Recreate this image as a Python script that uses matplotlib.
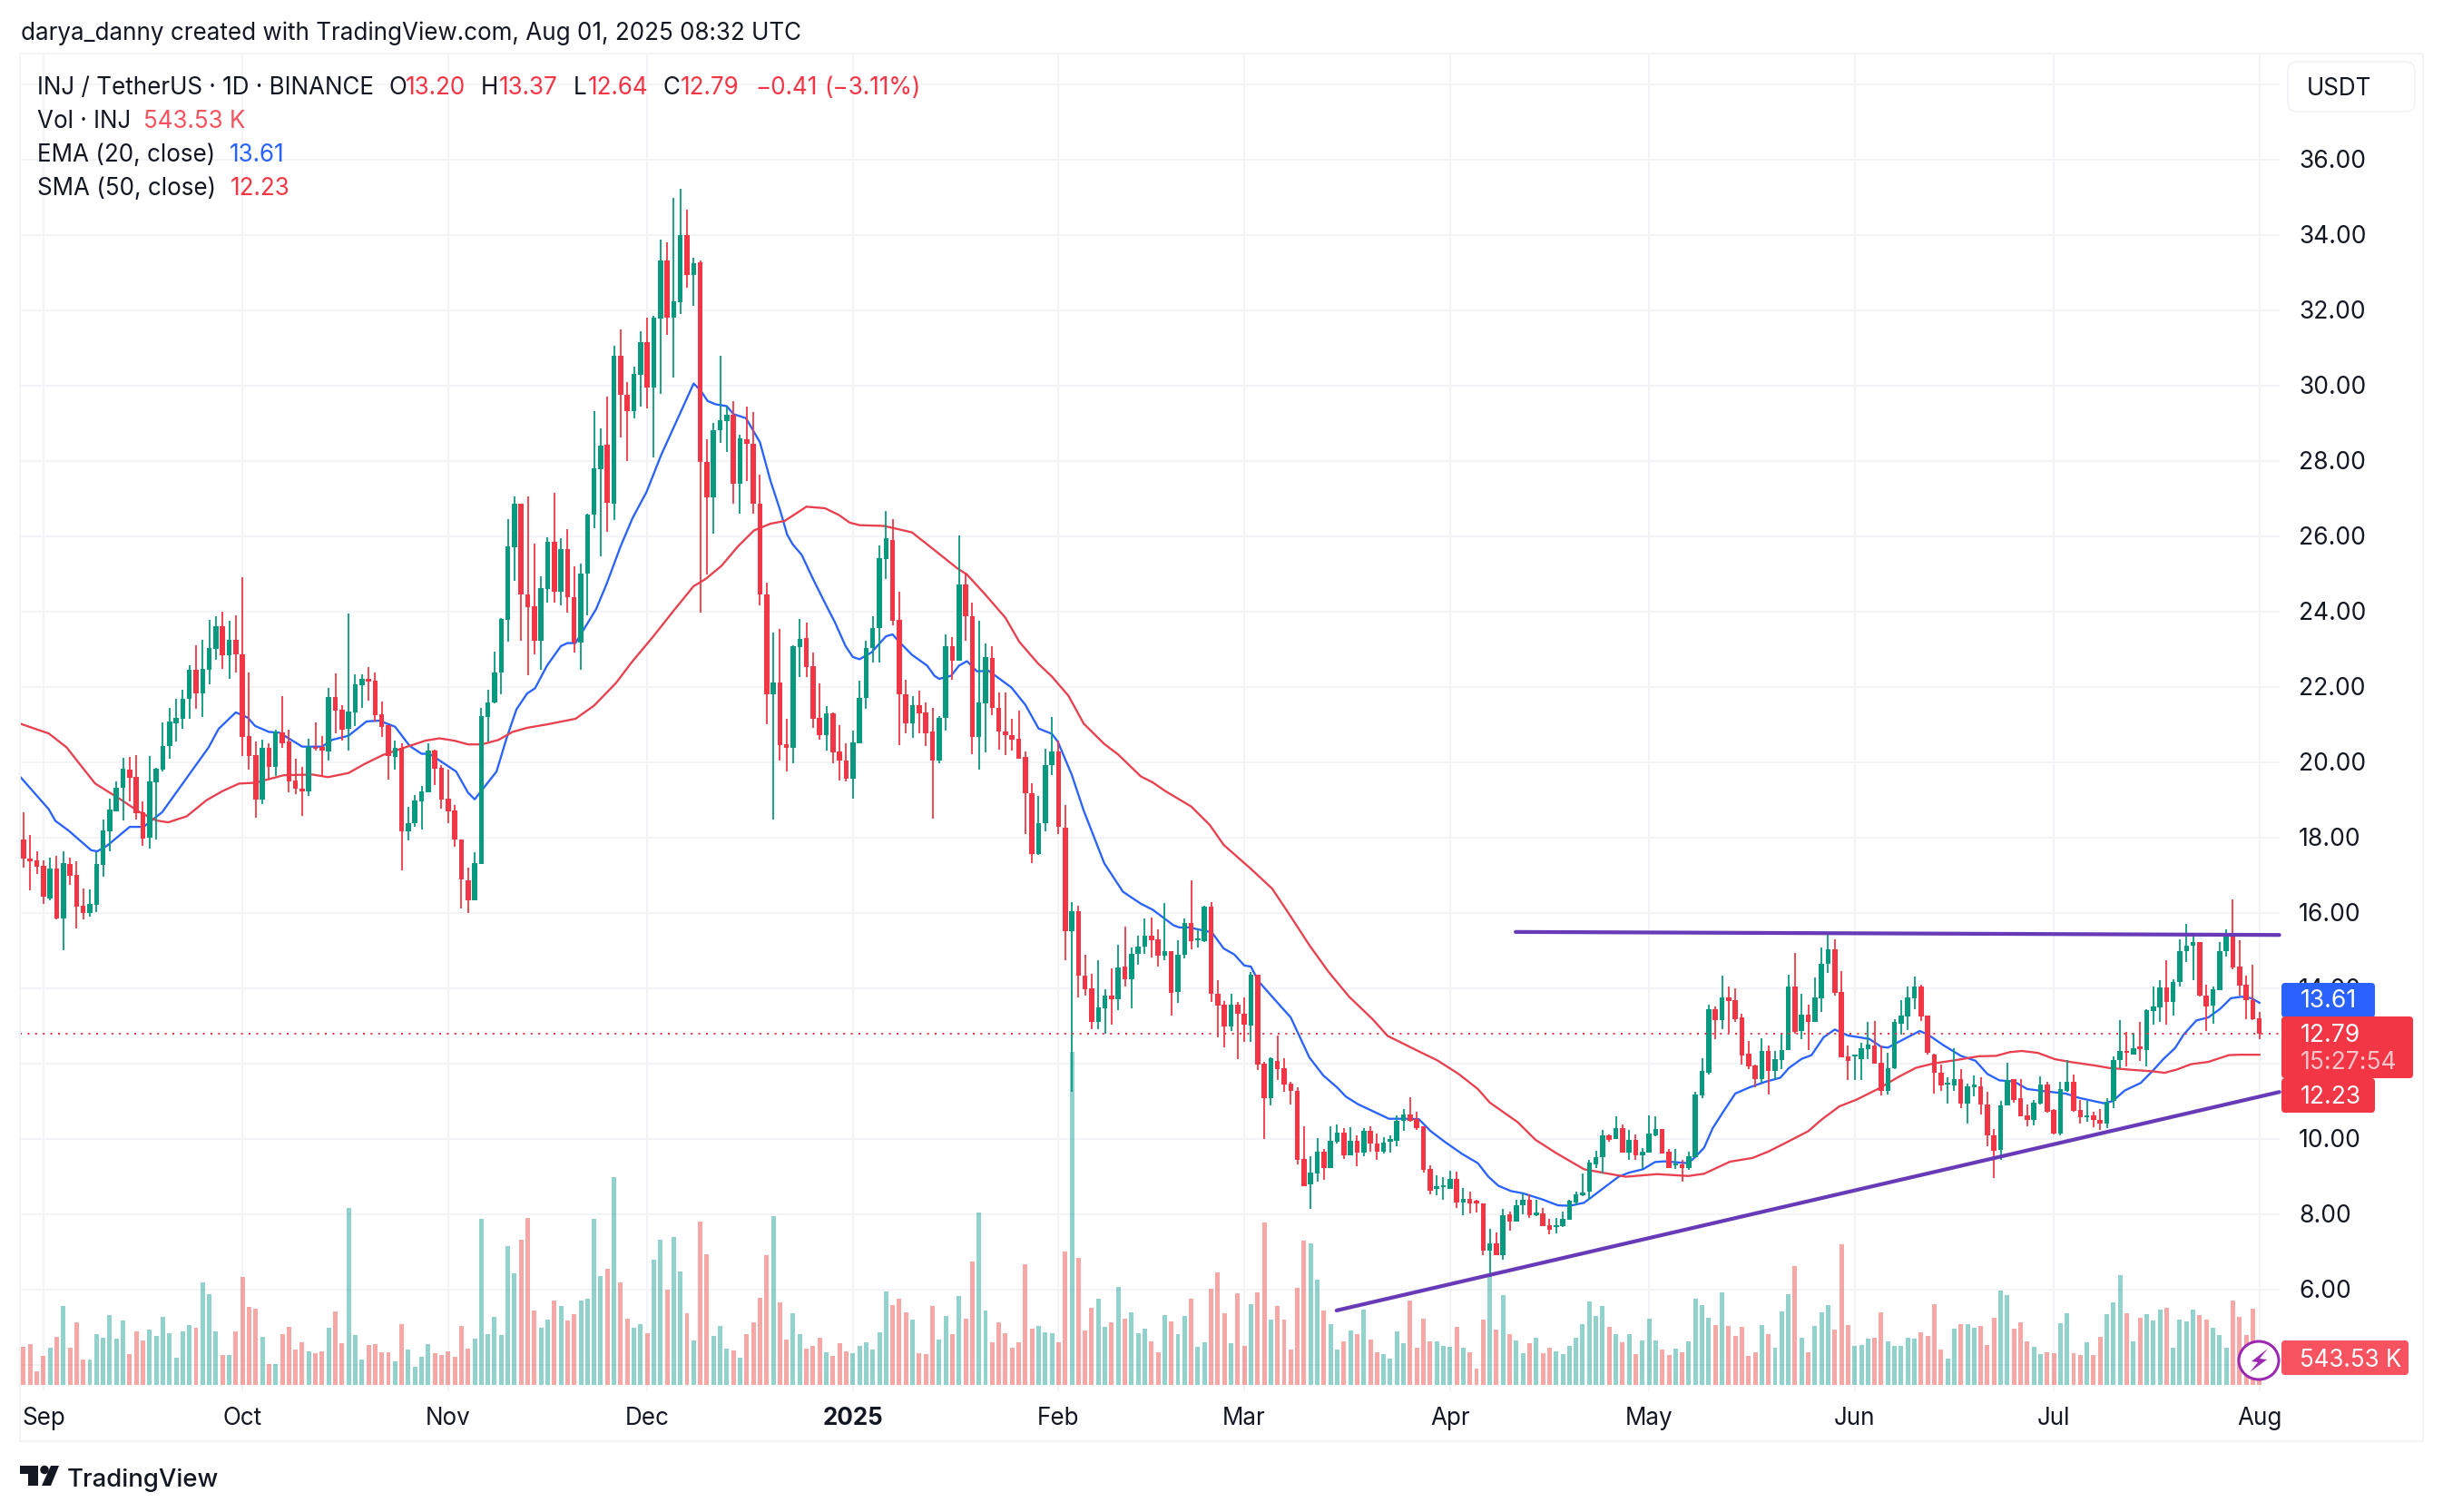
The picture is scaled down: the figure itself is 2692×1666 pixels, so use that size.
import numpy as np
import matplotlib
matplotlib.use("Agg")
import matplotlib.pyplot as plt
from matplotlib.patches import FancyBboxPatch, Rectangle, Polygon, Ellipse

plt.rcParams['font.family'] = ['Inter', 'DejaVu Sans']

opens = [
17.94,17.44,17.38,17.24,16.38,17.17,15.86,17.29,17.0,16.18,
16.0,16.22,17.28,18.17,18.69,19.33,19.81,19.6,18.67,18.0,
19.47,19.79,20.43,21.04,21.16,21.68,22.45,21.82,22.46,23.0,
23.6,22.84,23.25,22.86,20.69,20.18,19.0,20.38,19.87,20.78,
20.54,19.51,19.3,19.23,20.41,20.41,20.29,21.72,21.39,20.89,
21.32,22.04,22.22,22.16,21.26,20.97,20.14,20.39,18.16,18.37,
18.95,19.2,20.31,19.85,19.03,18.71,17.94,16.86,16.34,17.3,
21.2,21.58,22.39,23.77,25.7,26.85,24.44,24.14,23.23,24.6,
25.84,24.52,25.66,24.37,23.17,25.01,26.56,27.78,28.42,26.86,
30.79,29.76,29.33,30.28,31.14,29.94,31.78,33.33,31.81,32.2,
34.0,32.93,33.26,27.97,27.03,28.8,29.05,29.21,27.4,28.57,
28.44,26.85,24.44,21.81,22.12,20.47,20.39,23.05,23.29,22.54,
21.18,20.72,21.29,20.28,20.05,19.56,20.51,21.7,23.02,23.56,
25.38,25.9,23.77,21.81,21.03,21.52,21.31,20.8,20.03,21.18,
23.08,22.68,24.71,23.88,20.66,21.56,22.77,21.43,20.81,20.72,
20.62,20.14,19.17,17.56,18.39,19.92,20.27,18.26,15.5,16.05,
14.32,14.0,13.09,13.46,13.81,13.71,14.57,14.23,14.91,15.09,
15.38,15.29,14.87,14.97,13.89,14.89,15.72,15.27,15.24,16.15,
13.85,13.55,12.98,13.57,13.33,13.01,14.35,11.99,11.08,12.06,
11.87,11.46,11.26,9.46,8.78,9.07,9.66,9.23,9.92,10.16,
9.57,9.94,9.64,10.22,9.88,9.65,9.93,9.94,10.48,10.64,
10.52,10.33,9.19,8.67,8.71,8.67,8.93,8.31,8.41,8.31,
8.27,7.04,7.23,6.92,7.99,7.81,8.23,8.39,7.97,8.01,
7.71,7.65,7.69,7.85,8.31,8.5,8.59,9.33,9.5,10.09,
10.0,10.29,9.64,9.97,9.57,9.62,10.09,10.26,9.65,9.29,
9.31,9.22,9.52,11.16,11.76,13.45,13.14,13.75,13.67,13.21,
12.26,11.95,11.58,12.32,11.79,12.1,12.36,14.05,12.87,13.3,
13.09,13.73,14.64,15.03,13.89,12.19,12.18,12.12,12.38,12.48,
12.02,11.28,11.87,13.06,13.25,13.73,14.05,13.26,12.24,11.76,
11.43,11.42,11.59,10.94,11.37,11.39,10.9,10.09,9.7,10.88,
11.58,11.08,10.61,10.5,10.94,11.44,10.76,10.13,11.28,11.52,
10.76,10.56,10.61,10.5,10.4,11.0,12.08,12.34,12.24,12.43,
12.36,13.39,13.49,14.01,13.63,14.15,14.97,15.12,15.21,13.81,
13.54,13.95,14.97,15.41,14.57,14.09,13.69,13.2]

closes = [
17.44,17.37,17.22,16.42,17.17,15.86,17.32,16.98,16.17,16.0,
16.23,17.29,18.18,18.74,19.33,19.82,19.59,18.65,17.97,19.49,
19.82,20.43,21.08,21.17,21.68,22.45,21.82,22.47,23.04,23.6,
22.84,23.25,22.86,20.67,20.15,19.0,20.38,19.87,20.8,20.51,
19.49,19.29,19.23,20.41,20.35,20.31,21.73,21.37,20.86,21.34,
22.06,22.22,22.14,21.24,20.94,20.15,20.39,18.16,18.37,18.97,
19.21,20.3,19.83,19.01,18.69,17.94,16.88,16.34,17.32,21.21,
21.58,22.39,23.79,25.73,26.86,24.46,24.12,23.22,24.61,25.84,
24.52,25.65,24.37,23.17,25.01,26.58,27.8,28.4,26.88,30.79,
29.76,29.33,30.3,31.14,29.94,31.81,33.31,31.81,32.23,34.0,
32.93,33.25,27.97,27.03,28.8,29.07,29.21,27.4,28.59,28.44,
26.86,24.44,21.81,22.12,20.45,20.39,23.08,23.27,22.53,21.15,
20.72,21.29,20.26,20.03,19.56,20.52,21.7,23.02,23.56,25.41,
25.94,23.75,21.81,21.04,21.52,21.29,20.77,20.03,21.18,23.08,
22.68,24.71,23.88,20.66,21.58,22.79,21.43,20.8,20.72,20.6,
20.1,19.17,17.56,18.39,19.92,20.27,18.28,15.5,16.05,14.32,
13.96,13.09,13.49,13.81,13.71,14.55,14.23,14.91,15.11,15.38,
15.27,14.86,14.97,13.87,14.89,15.72,15.24,15.31,16.15,13.85,
13.53,12.98,13.57,13.33,13.04,14.35,11.97,11.08,12.13,11.86,
11.44,11.26,9.43,8.75,9.1,9.65,9.23,9.94,10.16,9.57,
9.94,9.64,10.21,9.88,9.66,9.89,9.98,10.48,10.64,10.48,
10.28,9.18,8.62,8.7,8.74,8.93,8.31,8.41,8.27,8.29,
7.04,7.23,6.92,7.97,7.81,8.23,8.39,7.97,8.01,7.69,
7.59,7.71,7.87,8.35,8.53,8.58,9.37,9.52,10.09,9.97,
10.28,9.64,9.97,9.57,9.65,10.14,10.26,9.6,9.23,9.33,
9.23,9.54,11.18,11.8,13.43,13.14,13.75,13.66,13.18,12.22,
11.92,11.58,12.32,11.79,12.12,12.36,14.05,12.83,13.29,13.09,
13.74,14.65,15.03,13.87,12.16,12.07,12.2,12.4,12.5,12.0,
11.26,11.88,13.09,13.26,13.75,14.03,13.25,12.27,11.75,11.42,
11.47,11.59,10.94,11.39,11.42,10.9,10.08,9.68,10.88,11.55,
11.04,10.6,10.5,10.96,11.44,10.72,10.13,11.32,11.52,10.74,
10.56,10.62,10.5,10.4,10.98,12.08,12.32,12.27,12.4,12.39,
13.42,13.5,14.01,13.62,14.15,14.97,15.12,15.21,13.79,13.5,
13.97,14.97,15.41,14.55,14.07,13.67,13.17,12.79]

highs = [
18.67,18.06,17.62,17.38,17.46,17.52,17.62,17.46,17.36,16.64,
16.62,17.6,18.47,19.03,19.49,20.11,20.14,20.18,18.95,20.15,
19.85,21.05,21.44,21.68,21.92,22.56,23.1,23.25,23.78,23.87,
23.99,23.75,23.89,24.91,22.38,20.54,20.59,20.51,20.85,21.74,
20.86,20.09,19.87,20.62,21.05,20.7,21.98,22.35,21.52,23.94,
22.32,22.32,22.52,22.38,21.6,20.97,20.57,20.49,18.8,19.12,
19.37,20.49,20.33,19.91,19.79,18.87,17.94,17.2,17.6,21.45,
21.92,22.94,23.83,26.44,27.05,26.85,27.05,25.8,24.94,25.96,
27.15,25.94,26.19,25.2,25.27,26.6,29.32,28.87,29.7,31.05,
31.49,30.1,30.51,31.43,31.81,31.86,33.88,33.79,34.97,35.23,
34.66,33.39,33.31,28.57,29.01,30.79,29.44,29.59,28.7,29.44,
29.3,27.63,24.77,23.45,23.54,21.15,23.1,23.79,23.71,22.91,
22.08,21.49,21.33,20.98,20.51,20.83,22.16,23.23,23.88,25.75,
26.67,26.44,24.52,22.18,21.75,21.89,21.58,21.44,21.21,23.4,
23.31,26.02,25.04,24.23,23.75,23.16,23.08,21.85,21.86,21.15,
21.37,20.27,19.43,19.09,20.35,21.2,20.57,18.87,16.29,16.18,
14.89,14.39,14.75,13.98,14.52,15.16,15.62,15.08,15.4,15.84,
15.88,15.57,16.26,14.97,15.27,15.86,16.86,15.59,16.18,16.29,
14.21,13.66,13.85,13.62,13.76,14.43,14.35,12.04,12.16,12.74,
12.14,11.52,11.36,10.33,9.54,10.02,9.72,10.32,10.37,10.28,
10.3,10.08,10.29,10.33,10.13,10.04,10.09,10.61,10.78,11.1,
10.72,10.33,9.29,9.03,8.98,9.15,9.13,8.69,8.59,8.37,
8.27,7.61,7.51,8.13,8.07,8.39,8.55,8.53,8.39,8.15,
7.87,7.89,8.07,8.39,8.59,9.07,9.45,9.68,10.24,10.12,
10.6,10.37,10.24,10.12,9.76,10.61,10.6,10.26,9.72,9.72,
9.43,9.66,11.24,12.14,13.55,13.5,14.33,14.03,13.99,13.33,
12.6,11.96,12.66,12.47,12.32,12.82,14.35,14.93,13.85,13.57,
14.27,15.07,15.44,15.29,14.45,12.47,12.24,12.54,13.1,13.13,
12.48,12.28,13.17,13.67,14.03,14.31,14.09,13.26,12.26,11.96,
11.63,12.4,11.84,11.47,11.68,11.64,11.24,10.25,11.0,12.02,
11.58,11.58,10.9,11.04,11.66,11.52,10.8,11.5,12.08,11.71,
11.02,11.0,10.72,10.8,11.08,12.19,13.14,12.83,12.81,13.1,
13.44,14.03,14.21,14.73,14.23,15.29,15.7,15.41,15.21,14.09,
14.03,15.21,15.57,16.35,15.27,14.33,14.61,13.37]

lows = [
17.2,16.6,17.02,16.23,16.34,15.82,15.0,16.74,15.59,15.83,
15.9,16.02,16.96,17.62,18.69,18.44,18.95,18.48,17.78,17.7,
17.94,19.75,20.09,20.55,20.88,21.16,21.41,21.2,22.06,22.72,
22.48,22.22,22.39,20.15,19.79,18.53,18.89,19.57,19.63,20.39,
19.2,19.15,18.56,19.09,20.31,19.63,20.05,20.76,20.58,20.31,
20.96,21.44,21.64,21.08,20.67,19.53,19.81,17.12,17.92,18.27,
18.21,19.19,19.39,18.77,18.39,17.76,16.12,16.0,16.34,17.3,
20.55,21.57,21.81,23.19,24.8,23.23,22.3,22.87,22.44,24.23,
24.23,24.15,23.97,22.91,22.44,23.9,26.21,25.47,26.12,26.42,
28.63,28.0,29.13,29.44,29.38,28.09,29.78,31.35,30.22,31.89,
32.6,32.12,23.98,24.98,26.07,28.47,28.24,26.86,26.59,27.46,
26.59,24.17,21.0,18.47,20.05,19.76,19.97,22.25,22.25,20.92,
20.6,20.31,19.97,19.51,19.48,19.02,20.49,21.41,22.64,22.64,
24.86,23.63,20.45,20.77,20.64,20.77,20.43,18.49,19.97,20.83,
22.19,22.68,23.22,20.22,19.79,20.25,21.24,20.34,20.18,20.31,
20.08,18.09,17.33,17.53,18.17,19.66,18.1,14.75,11.24,13.76,
13.79,12.92,12.9,12.8,13.03,13.42,14.03,13.46,14.62,14.92,
14.82,14.57,14.73,13.26,13.6,14.78,15.03,15.08,15.22,13.63,
12.69,12.42,12.85,12.12,12.58,12.58,11.83,10.0,10.88,11.55,
11.24,10.92,9.31,8.73,8.13,8.87,8.91,9.23,9.88,9.47,
9.57,9.27,9.54,9.65,9.43,9.6,9.62,9.8,10.21,10.44,
10.24,9.11,8.53,8.51,8.37,8.66,8.17,7.97,8.01,8.05,
6.92,6.33,6.91,6.79,7.57,7.81,7.99,7.89,7.95,7.67,
7.47,7.48,7.65,7.85,8.23,8.47,8.39,9.22,9.07,9.92,
10.0,9.64,9.43,9.43,9.19,9.62,10.06,9.6,9.22,9.19,
8.86,9.18,9.52,11.08,11.7,12.65,12.9,12.81,13.09,11.96,
11.86,11.36,11.48,11.18,11.59,11.84,12.36,12.79,12.65,12.35,
13.09,13.37,14.41,13.81,12.15,11.56,11.55,11.55,12.12,12.0,
11.16,11.18,11.84,12.77,12.89,13.45,13.13,12.24,11.2,11.26,
10.94,11.26,10.82,10.4,11.12,10.64,9.81,8.95,9.43,10.88,
10.96,10.6,10.34,10.36,10.92,10.69,10.12,10.08,11.24,10.72,
10.4,10.45,10.3,10.24,10.28,10.82,11.87,11.92,12.24,12.07,
11.92,13.03,13.09,13.03,13.27,14.03,14.69,14.21,13.77,12.86,
13.05,13.95,14.84,14.49,13.79,13.17,13.14,12.64]

volumes_k = [
1029,1103,362,782,1004,1300,2140,1004,1695,683,
683,1374,1276,1893,1251,1745,831,1448,1202,1498,
1325,1844,1399,732,1448,1621,1547,2782,2461,1448,
807,807,1448,2930,2115,2066,1300,560,560,1374,
1572,955,1152,905,856,905,1547,1992,1128,4806,
1350,683,1078,1103,881,881,634,1646,955,486,
757,1103,856,807,905,757,1597,979,1251,4510,
1374,1844,1350,3769,3029,3942,4535,2016,1547,1769,
2288,2140,1745,1918,2288,2337,4510,2955,3152,5646,
2782,1794,1547,1646,1399,3399,3942,2584,4008,3078,
1942,1202,4436,3547,1325,1597,979,930,732,1374,
1695,2362,3514,4584,2239,1226,1942,1374,979,1053,
1276,881,782,1128,905,856,1053,1152,955,1424,
2535,2164,2337,1967,1769,856,831,2140,1226,1868,
1374,2411,1794,3350,4683,2016,1152,1695,1399,1004,
1152,3276,1523,1597,1424,1399,1152,3621,9053,3448,
1473,2090,2337,1572,1695,2658,1794,1967,1399,1523,
1177,881,1893,1720,1382,1868,2337,1029,1152,2609,
3053,1942,1128,2485,1053,2189,2510,4411,1769,2140,
1769,955,2634,3926,3843,2856,2016,1646,955,1177,
1473,1374,2041,1226,881,831,708,1448,1128,2288,
1004,1794,1177,1177,1053,1029,1572,1004,881,436,
1769,2979,1498,2436,1374,1202,856,1128,1276,856,
1004,905,839,1053,1276,1646,2263,1868,2140,1572,
1374,1152,1374,839,1202,1794,1202,963,798,988,
881,1177,2337,2164,1819,1621,2510,1597,1325,1572,
782,881,1621,1374,1004,1992,2461,3226,1276,881,
1597,1967,2164,1498,3819,1621,1053,1078,1251,1276,
1967,1177,1053,1053,1276,1251,1432,1333,2189,963,
716,1523,1638,1646,1539,1597,1078,1819,2560,2436,
1523,1695,1177,1029,831,881,856,1671,1942,856,
807,1152,807,1300,1918,2239,2979,1942,1177,1819,
1918,1745,2041,2090,1004,1769,1720,2041,1893,1769,
1547,1350,1004,2288,1844,1350,2066,543.53]

ema_days = [-0.5,3.8,4.8,6.8,10.2,11.1,12.6,16,18.1,20.9,24,27.9,29.4,32,33.8,34.9,37,38.6,42,45,46.5,49,51.7,53.6,56,58.2,60,61.2,65.2,67,68,71.3,72.8,74.3,75.9,77.1,78.9,81,82,83.2,86.3,87.8,90,91.8,93.9,96.1,101,102,103.1,104.3,106,107,108.9,111,112.6,114,115.1,115.9,117.3,119,121.1,122.3,123.9,125,126,127.8,130,131,132,133.9,136.2,137.3,138,139.8,141,142.2,143.7,145.5,148.9,151,153,155,155.9,158,159.8,162.9,165.7,168.4,170.2,173.3,174.2,175.7,179.1,180.9,182.5,184,185,186.1,187.9,191,193.8,195.9,198,199.3,201.1,205.8,208.4,210.3,212.1,214.2,216.8,219.2,220.8,222.3,224.2,226,228.9,231.3,233.1,235.2,236.2,238.3,240.4,242,244.1,245.9,247.3,250.9,252,253.3,254.6,256.2,258,260.1,262.5,264.8,266.1,268,269.5,271.3,273,275,278.2,280,281,283.7,285.8,287,289.4,292,294.2,296,297.8,300,302,304.6,307.8,309.9,313.6,314.9,316.7,319.1,320.9,322.5,324.3,325.6,327.5,329.3,331.1,332.7,334.3,335.8,337]
ema_vals = [19.61,18.75,18.44,18.18,17.66,17.63,17.78,18.28,18.28,18.67,19.43,20.39,20.88,21.32,21.18,20.96,20.8,20.78,20.41,20.41,20.59,20.7,21.08,21.1,20.94,20.43,20.22,20.22,19.75,19.19,19.01,19.75,20.63,21.4,21.82,21.96,22.56,23.08,23.16,23.16,24.06,24.69,25.73,26.48,27.17,28.15,30.05,29.88,29.59,29.5,29.45,29.24,29.13,28.49,27.46,26.71,26.04,25.79,25.5,24.86,24.12,23.71,23.08,22.79,22.73,22.91,23.34,23.39,23.19,22.85,22.56,22.29,22.21,22.29,22.56,22.68,22.41,22.42,21.98,21.52,20.89,20.75,20.54,19.66,18.71,17.31,16.56,16.24,16.08,15.67,15.61,15.61,15.48,15.05,14.89,14.6,14.57,14.19,13.83,13.22,12.16,11.68,11.36,11.12,10.92,10.53,10.53,10.52,10.2,9.92,9.6,9.35,8.99,8.75,8.61,8.55,8.39,8.23,8.22,8.3,8.43,8.71,8.99,9.1,9.19,9.38,9.4,9.35,9.52,9.76,10.28,10.72,11.2,11.36,11.51,11.62,11.88,12.12,12.22,12.69,12.9,12.74,12.65,12.44,12.42,12.67,12.86,12.77,12.48,12.2,12.07,11.72,11.55,11.52,11.32,11.26,11.2,11.08,10.94,11.0,11.28,11.48,11.8,12.11,12.41,12.77,13.14,13.22,13.45,13.73,13.77,13.73,13.61]

sma_days = [-0.5,3.8,6.5,8.1,10.8,14.8,17.5,20,21.8,24.6,27.6,30,32.5,34.9,39.2,43.5,45.9,49,51.4,54.2,57.5,60.6,62.7,64.9,67,69.1,71.6,73.7,75.9,78.9,83.2,86,89.3,91.8,94.8,97.9,101,102.8,105.2,107.7,110.1,112.6,114.7,118,120.8,122.9,124.5,126,129.7,133.9,137,140.7,142.2,144.9,148,150.1,152.9,155,157.5,159.8,162.9,165,168.4,170.2,172.1,176,178.8,180.9,184.9,188.2,191,193.8,196.7,199.8,203.3,205.6,210.3,213.1,216.3,219.2,221,225.2,227.9,231,235.2,238.3,241.5,246.2,250.9,253.3,257.2,260.6,263,265.7,269,271.1,273.7,276.3,279.5,282.6,285.2,287.9,291,294.7,297.3,299.4,301.2,303.6,306.2,308.8,312,314.3,317.7,320.9,322.7,324.6,326.7,329.3,332.4,334,337]
sma_vals = [21.02,20.76,20.39,20.03,19.43,18.99,18.67,18.45,18.4,18.56,18.99,19.23,19.43,19.45,19.65,19.67,19.6,19.71,19.95,20.19,20.39,20.57,20.63,20.57,20.47,20.47,20.59,20.8,20.91,21.0,21.15,21.5,22.1,22.68,23.31,24.0,24.67,24.86,25.21,25.73,26.15,26.33,26.4,26.78,26.74,26.56,26.36,26.29,26.27,26.1,25.67,25.15,24.98,24.46,23.83,23.19,22.62,22.27,21.76,21.02,20.48,20.2,19.62,19.46,19.23,18.82,18.33,17.8,17.18,16.64,15.9,15.14,14.43,13.77,13.18,12.73,12.32,12.08,11.72,11.32,10.96,10.44,9.97,9.62,9.19,9.09,8.99,9.06,9.01,9.07,9.39,9.49,9.66,9.9,10.2,10.52,10.86,11.04,11.32,11.64,11.88,12.0,12.08,12.19,12.2,12.3,12.33,12.28,12.11,12.03,11.95,11.88,11.83,11.79,11.75,11.84,11.98,12.04,12.22,12.23,12.23]

resistance_days = [224.9, 340.0]
resistance_vals = [15.49, 15.41]
support_days = [197.9, 340.0]
support_vals = [5.44, 11.24]

price_labels = [6,8,10,14,16,18,20,22,24,26,28,30,32,34,36]
grid_prices = [4,6,8,10,12,14,16,18,20,22,24,26,28,30,32,34,36,38]
month_days = [3,33,64,94,125,156,184,215,245,276,306,337]
month_labels = ['Sep','Oct','Nov','Dec','2025','Feb','Mar','Apr','May','Jun','Jul','Aug']
last_price = 12.79

UP, DOWN = '#089981', '#f23645'
VUP, VDOWN = '#26a69a', '#ef5350'
GRID = '#f2f4f8'
INK = '#131722'
W, H = 2692, 1666
PX = 0.72  # points per pixel at dpi 100

def y_px(p):
    return 1420.7 - (p - 6) * 41.5

L, R, T, B = 22, 2512, 59, 1533
fig = plt.figure(figsize=(W/100, H/100), dpi=100, facecolor='white')
pos = [L/W, 1-B/H, (R-L)/W, (B-T)/H]
xlim = ((L-25.9)/7.311, (R-25.9)/7.311)

vax = fig.add_axes(pos, zorder=1)
ax = fig.add_axes(pos, zorder=2)
ax.patch.set_visible(False)
vax.set_facecolor('white')
for a in (vax, ax):
    a.set_xlim(*xlim)
    for s in a.spines.values():
        s.set_visible(False)
    a.set_xticks([]); a.set_yticks([])
ax.set_ylim(6+(1420.7-B)/41.5, 6+(1420.7-T)/41.5)
vax.set_ylim((1525.7-B)*24.69, (1525.7-T)*24.69)

days = np.arange(len(opens))
o, c, h, l = map(np.array, (opens, closes, highs, lows))
up = c >= o
cols = np.where(up, UP, DOWN)

for m in month_days:
    vax.axvline(m, color=GRID, lw=2*PX, zorder=0)
for p in grid_prices:
    px = y_px(p)
    vax.axhline((1525.7-px)*24.69, color=GRID, lw=2*PX, zorder=0)

vax.bar(days, volumes_k, width=0.68, color=np.where(up, VUP, VDOWN), alpha=0.5, lw=0, zorder=2)

ax.plot(ema_days, ema_vals, color='#2962ff', lw=2.3*PX, zorder=3, solid_joinstyle='round')
ax.plot(sma_days, sma_vals, color='#e8404f', lw=2.3*PX, zorder=3, solid_joinstyle='round')
ax.vlines(days, l, h, colors=cols, lw=1.8*PX, zorder=4)
ax.bar(days, np.maximum(np.abs(c-o), 0.06), bottom=np.minimum(o, c), width=0.76, color=cols, lw=0, zorder=5)
ax.axhline(last_price, color=DOWN, lw=2*PX, ls=(0, (1, 3.2)), zorder=6)
ax.plot(resistance_days, resistance_vals, color='#673ab7', lw=4.2*PX, zorder=7, solid_capstyle='round', clip_on=False)
ax.plot(support_days, support_vals, color='#673ab7', lw=4.2*PX, zorder=7, solid_capstyle='round', clip_on=False)

# overlay in pixel coordinates
ov = fig.add_axes([0, 0, 1, 1], zorder=3)
ov.set_xlim(0, W); ov.set_ylim(H, 0); ov.axis('off')

def txt(x, y, s, color=INK, size=26, ha='left', weight='normal', alpha=1, z=5):
    ov.text(x, y, s, color=color, fontsize=size*PX, ha=ha, va='center', weight=weight,
            alpha=alpha, zorder=z)

def box(x0, y0, x1, y1, fc, ec='none', r=4, lw=0, z=3):
    ov.add_patch(FancyBboxPatch((x0, y0), x1-x0, y1-y0, boxstyle=f'round,pad=0,rounding_size={r}',
                                fc=fc, ec=ec, lw=lw, zorder=z))

ov.add_patch(Rectangle((L, T), 2670-L, 1588-T, fc='none', ec=GRID, lw=2*PX, zorder=0))

# header
txt(23, 37, 'darya_danny created with TradingView.com, Aug 01, 2025 08:32 UTC', size=26)
RED = '#f23645'
txt(41, 97, 'INJ / TetherUS · 1D · BINANCE')
for x, s, col in [(428,'O',INK),(447,'13.20',RED),(530,'H',INK),(550,'13.37',RED),(632,'L',INK),
                  (648,'12.64',RED),(730,'C',INK),(750,'12.79',RED),(832,'−0.41',RED),(908,'(−3.11%)',RED)]:
    txt(x, 97, s, col)
txt(41, 134, 'Vol · INJ'); txt(158, 134, '543.53 K', '#f7525f')
txt(41, 171, 'EMA (20, close)'); txt(253, 171, '13.61', '#2962ff')
txt(41, 208, 'SMA (50, close)'); txt(254, 208, '12.23', RED)

# price axis
for p in price_labels:
    txt(2533, y_px(p)+2, f'{p:.2f}', size=26.5, z=1)
box(2521, 68, 2661, 123, 'white', ec=GRID, r=10, lw=1.4)
txt(2542, 98, 'USDT', size=26)

# x axis
for d, s in zip(month_days, month_labels):
    x = 25.9 + 7.311*d
    txt(x, 1563, s, ha='center', weight='bold' if s == '2025' else 'normal', size=26)

# price tags
box(2514, 1083, 2617, 1121, '#2962ff', z=2)
txt(2535, 1103, '13.61', 'white', size=26.5)
box(2514, 1226-38, 2617, 1226, RED, z=2)
box(2514, 1120, 2659, 1188, RED, z=3)
txt(2535, 1140.5, '12.79', 'white', size=26.5)
txt(2535, 1171, '15:27:54', 'white', size=26.5, alpha=0.7)
txt(2535, 1209.5, '12.23', 'white', size=26.5)
box(2514, 1477, 2654, 1515, '#f7525f', z=2)
txt(2534, 1499, '543.53 K', 'white', size=26)

# lightning badge
ov.add_patch(Ellipse((2489, 1499), 44, 42, fc='white', ec='#9c27b0', lw=3*PX, zorder=4))
ov.add_patch(Polygon([(2499,1486),(2481,1500),(2488,1501),(2479,1512),(2498,1498),(2490,1497)], fc='#9c27b0', ec='none', zorder=5))

# TradingView logo
ov.add_patch(Polygon([(22,1615),(42,1615),(42,1637),(31,1637),(31,1624),(22,1624)], fc='#131722', ec='none'))
ov.add_patch(Ellipse((49,1619.5), 9.5, 9.5, fc='#131722', ec='none'))
ov.add_patch(Polygon([(56,1615),(65,1615),(56,1637),(46,1637)], fc='#131722', ec='none'))
txt(74, 1631, 'TradingView', size=27.5, weight='medium')

fig.savefig('out.png', dpi=100)
